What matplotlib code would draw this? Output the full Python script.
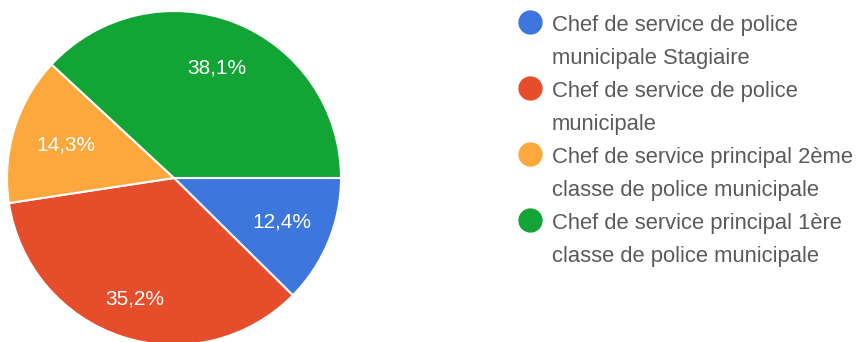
import numpy as np
import matplotlib.pyplot as plt
from matplotlib.lines import Line2D

# ---- Data
labels = [
    "Chef de service de police\nmunicipale Stagiaire",
    "Chef de service de police\nmunicipale",
    "Chef de service principal 2ème\nclasse de police municipale",
    "Chef de service principal 1ère\nclasse de police municipale",
]
shares = [12.4, 35.2, 14.3, 38.1]
colors = ["#3d76dc", "#e64e2b", "#fca83c", "#12a434"]

plt.rcParams["font.family"] = ["Liberation Sans", "DejaVu Sans"]

W, H = 860, 342
fig = plt.figure(figsize=(W / 100, H / 100), dpi=100)

# ---- Pie, centred at (174, 178) px with radius 167 px
cx, cy, r = 174, 178, 167
ax = fig.add_axes([(cx - r) / W, (H - cy - r) / H, 2 * r / W, 2 * r / H])
wedges, _, pct_texts = ax.pie(
    shares, colors=colors, startangle=0, counterclock=False,
    autopct=lambda p: f"{p:.1f}%".replace(".", ","),
    pctdistance=0.7, radius=1,
    wedgeprops=dict(edgecolor="white", linewidth=1.5),
    textprops=dict(color="white", fontsize=15),
)

# push each percentage label a little in/out along its wedge bisector
label_dist = [0.70, 0.76, 0.68, 0.71]
for w, t, d in zip(wedges, pct_texts, label_dist):
    ang = np.deg2rad((w.theta1 + w.theta2) / 2)
    t.set_position((d * np.cos(ang), d * np.sin(ang)))

ax.set_xlim(-1, 1)
ax.set_ylim(-1, 1)
ax.set_aspect("equal")
ax.axis("off")

# ---- Legend: dot + two text lines per entry
x_dot, x_txt = 530, 552
first_base, line_gap, entry_gap = 31, 33, 66
for i, (lab, col) in enumerate(zip(labels, colors)):
    base = first_base + i * entry_gap
    fig.add_artist(Line2D([x_dot / W], [1 - (base - 9) / H], marker="o",
                          markersize=16.5, color=col, linestyle="none",
                          transform=fig.transFigure))
    for j, line in enumerate(lab.split("\n")):
        fig.text(x_txt / W, 1 - (base + j * line_gap) / H, line,
                 fontsize=15.8, color="#5a5a5a", va="baseline", ha="left")

fig.savefig("out.png", dpi=100)
